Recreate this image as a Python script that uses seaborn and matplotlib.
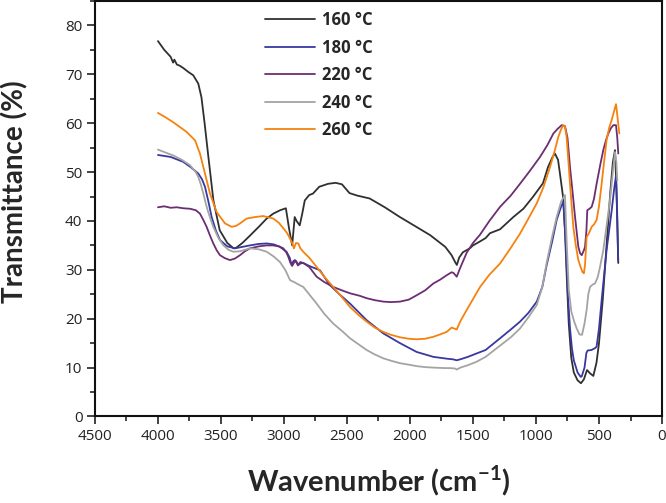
import numpy as np
import pandas as pd
import seaborn as sns
import matplotlib
matplotlib.use("Agg")
import matplotlib.pyplot as plt
from matplotlib.ticker import MultipleLocator

# ---------------- data ----------------
labels = ["160 °C", "180 °C", "220 °C", "240 °C", "260 °C"]
colors = ["#303030", "#3838a0", "#6c2e72", "#a4a4a4", "#f5820f"]

wn_160 = [4000, 3950, 3900, 3880, 3870, 3850, 3830, 3800, 3760, 3720, 3680, 3655, 3630, 3600, 3560,
          3510, 3450, 3400, 3380, 3330, 3270, 3200, 3137, 3085, 3030, 2985, 2960, 2935, 2915, 2900,
          2875, 2855, 2835, 2800, 2770, 2720, 2650, 2590, 2540, 2480, 2420, 2320, 2200, 2080, 1950,
          1840, 1720, 1670, 1640, 1628, 1610, 1580, 1525, 1500, 1445, 1400, 1365, 1285, 1180, 1100,
          1025, 945, 905, 870, 850, 825, 810, 785, 770, 755, 740, 720, 700, 670, 643, 620, 595, 570,
          545, 520, 500, 470, 440, 410, 390, 373, 362, 347]
t_160 = [76.8, 75.0, 73.6, 72.4, 73.0, 72.0, 71.8, 71.3, 70.5, 69.8, 68.1, 65.3, 60.0, 53.1, 44.2,
         38.1, 35.5, 34.4, 34.5, 35.5, 37.0, 38.8, 40.5, 41.5, 42.2, 42.6, 38.5, 35.0, 40.8, 40.0,
         39.1, 41.5, 44.2, 45.3, 45.6, 47.0, 47.6, 47.8, 47.5, 45.7, 45.2, 44.6, 42.8, 40.8, 38.8,
         37.1, 34.7, 33.0, 31.5, 31.0, 32.5, 33.6, 34.4, 35.0, 35.8, 36.5, 37.5, 38.3, 40.8, 42.5,
         44.9, 47.7, 51.0, 53.0, 53.8, 52.5, 49.7, 44.9, 38.0, 28.0, 19.0, 12.0, 9.0, 7.4, 6.8, 7.6,
         9.5, 8.8, 8.3, 11.0, 15.0, 24.0, 35.0, 46.0, 52.0, 54.5, 47.0, 31.4]

wn_180 = [4000, 3900, 3800, 3740, 3680, 3650, 3627, 3600, 3574, 3540, 3508, 3450, 3390, 3330, 3270,
          3200, 3137, 3080, 3032, 2980, 2955, 2939, 2925, 2913, 2900, 2886, 2870, 2847, 2800, 2714,
          2640, 2560, 2476, 2344, 2212, 2079, 1947, 1815, 1700, 1660, 1629, 1600, 1540, 1471, 1400,
          1285, 1200, 1127, 1060, 994, 950, 915, 870, 836, 800, 783, 765, 745, 730, 715, 700, 670,
          645, 637, 615, 600, 590, 560, 530, 519, 500, 479, 440, 400, 380, 365, 356, 348]
t_180 = [53.5, 53.1, 52.1, 51.0, 49.7, 48.5, 47.0, 44.0, 40.8, 38.0, 36.1, 34.8, 34.4, 34.7, 35.0,
         35.3, 35.4, 35.2, 34.7, 33.7, 32.5, 31.0, 31.8, 32.0, 31.6, 31.0, 31.3, 31.4, 30.8, 29.9,
         27.0, 25.0, 23.1, 19.7, 17.0, 15.0, 13.2, 12.2, 11.8, 11.7, 11.5, 11.7, 12.2, 12.9, 13.6,
         16.0, 17.8, 19.4, 21.2, 23.5, 26.5, 31.0, 36.0, 40.2, 43.0, 43.9, 36.0, 24.0, 18.0, 14.0,
         11.5, 9.0, 8.1, 8.2, 10.0, 13.0, 13.5, 13.6, 14.0, 14.3, 18.0, 23.8, 34.0, 42.0, 46.5,
         49.3, 42.0, 32.0]

wn_220 = [4000, 3950, 3900, 3850, 3800, 3746, 3700, 3667, 3640, 3614, 3587, 3561, 3534, 3508, 3470,
          3429, 3390, 3349, 3310, 3270, 3200, 3140, 3085, 3040, 3005, 2980, 2966, 2950, 2935, 2920,
          2905, 2890, 2870, 2847, 2800, 2741, 2680, 2609, 2540, 2476, 2400, 2344, 2280, 2212, 2150,
          2079, 2010, 1947, 1880, 1815, 1760, 1709, 1670, 1656, 1629, 1600, 1550, 1500, 1444, 1370,
          1285, 1200, 1127, 1050, 968, 910, 862, 830, 796, 770, 750, 730, 710, 690, 664, 650, 637,
          620, 611, 600, 593, 575, 558, 540, 519, 490, 466, 445, 426, 405, 386, 365, 355, 347]
t_220 = [42.8, 43.0, 42.7, 42.8, 42.6, 42.5, 42.2, 41.5, 40.2, 38.8, 37.0, 35.4, 34.0, 33.0, 32.4,
         32.0, 32.3, 33.0, 33.8, 34.4, 34.8, 35.0, 35.0, 34.8, 34.4, 33.5, 32.7, 31.5, 30.8, 31.5,
         31.8, 30.9, 31.6, 31.4, 30.6, 28.6, 27.5, 26.5, 25.8, 25.2, 24.7, 24.2, 23.8, 23.5, 23.4,
         23.5, 23.9, 24.8, 25.8, 27.2, 28.0, 28.9, 29.5, 29.4, 28.6, 30.5, 33.5, 35.5, 37.2, 40.0,
         42.9, 45.2, 47.6, 50.2, 53.1, 55.5, 57.9, 58.8, 59.6, 59.4, 57.0, 51.0, 46.0, 40.8, 34.7,
         33.4, 33.0, 34.0, 34.7, 38.0, 42.2, 42.5, 42.9, 44.5, 47.6, 51.5, 54.5, 56.5, 57.9, 59.0,
         59.6, 59.6, 57.0, 53.8]

wn_240 = [4000, 3940, 3879, 3810, 3746, 3700, 3680, 3660, 3640, 3620, 3601, 3580, 3561, 3520, 3480,
          3440, 3402, 3350, 3270, 3200, 3137, 3080, 3032, 2990, 2952, 2920, 2899, 2870, 2847, 2800,
          2741, 2680, 2609, 2540, 2476, 2410, 2344, 2280, 2212, 2150, 2079, 2010, 1947, 1880, 1815,
          1720, 1680, 1640, 1629, 1600, 1540, 1471, 1400, 1285, 1200, 1127, 1060, 994, 950, 915,
          870, 836, 800, 770, 757, 740, 720, 698, 677, 655, 635, 615, 598, 585, 571, 550, 532, 510,
          492, 466, 440, 413, 386, 373, 362, 355]
t_240 = [54.6, 54.0, 53.4, 52.5, 51.4, 50.0, 49.0, 47.5, 45.6, 43.5, 41.8, 40.2, 38.8, 36.5, 35.0,
         34.1, 33.7, 33.8, 34.4, 34.2, 33.7, 32.7, 31.6, 30.0, 27.9, 27.5, 27.2, 26.8, 26.5, 25.0,
         23.1, 21.0, 19.0, 17.5, 16.0, 14.8, 13.6, 12.7, 11.9, 11.4, 10.9, 10.6, 10.3, 10.1, 10.0,
         9.9, 9.9, 9.8, 9.6, 10.0, 10.5, 11.2, 12.2, 14.5, 16.2, 18.0, 20.3, 22.8, 26.5, 31.5,
         37.0, 40.8, 44.0, 45.3, 36.0, 26.0, 21.5, 19.5, 18.0, 16.8, 16.7, 19.0, 21.8, 25.0, 26.5,
         27.0, 27.2, 28.5, 30.6, 34.0, 39.0, 44.2, 51.0, 54.1, 52.0, 48.3]

wn_260 = [4000, 3940, 3879, 3820, 3772, 3706, 3667, 3627, 3587, 3534, 3468, 3415, 3380, 3349, 3296,
          3230, 3164, 3085, 3040, 3005, 2975, 2952, 2935, 2921, 2905, 2886, 2870, 2847, 2800, 2741,
          2680, 2609, 2540, 2476, 2410, 2344, 2280, 2212, 2150, 2079, 2010, 1947, 1880, 1815, 1760,
          1709, 1669, 1650, 1629, 1600, 1550, 1500, 1444, 1370, 1285, 1200, 1127, 1060, 994, 940,
          889, 850, 823, 800, 783, 770, 757, 730, 704, 684, 664, 645, 630, 620, 611, 598, 580, 558,
          540, 519, 500, 479, 460, 440, 420, 400, 380, 365, 352, 339]
t_260 = [62.1, 61.2, 60.2, 59.1, 58.2, 56.5, 53.8, 49.7, 45.6, 41.8, 39.5, 38.8, 39.0, 39.5, 40.5,
         40.8, 41.0, 40.5, 39.6, 38.5, 37.5, 36.4, 35.5, 34.4, 35.5, 35.4, 34.4, 33.7, 32.5, 30.6,
         28.6, 26.5, 24.4, 22.4, 20.8, 19.4, 18.2, 17.3, 16.7, 16.2, 15.9, 15.8, 15.9, 16.3, 16.8,
         17.3, 18.2, 18.0, 17.8, 19.5, 21.8, 24.0, 26.5, 29.0, 31.3, 34.5, 37.4, 40.5, 43.6, 47.0,
         51.0, 54.5, 57.2, 58.8, 59.6, 59.3, 57.2, 47.6, 38.8, 35.0, 32.0, 30.5, 29.5, 29.3, 31.0,
         36.7, 37.5, 38.8, 39.3, 40.2, 43.0, 47.6, 52.0, 56.5, 59.0, 60.6, 62.5, 63.9, 61.0, 57.9]

x_ticks = [4500, 4000, 3500, 3000, 2500, 2000, 1500, 1000, 500, 0]
y_ticks = [0, 10, 20, 30, 40, 50, 60, 70, 80]

# ---------------- build long-form table ----------------
series = [(wn_160, t_160), (wn_180, t_180), (wn_220, t_220), (wn_240, t_240), (wn_260, t_260)]
frames = []
for lab, (w, t) in zip(labels, series):
    frames.append(pd.DataFrame({"wn": w, "T": t, "sample": lab}))
df = pd.concat(frames, ignore_index=True)

# ---------------- plot ----------------
sns.set_style("ticks")
plt.rcParams["font.family"] = ["Open Sans", "DejaVu Sans"]
plt.rcParams["mathtext.fontset"] = "custom"
plt.rcParams["mathtext.rm"] = "Lato"
plt.rcParams["mathtext.bf"] = "Lato:bold"

fig = plt.figure(figsize=(6.66, 5.03), dpi=100)
ax = fig.add_axes([0.1426, 0.172, 0.8514, 0.826])

sns.lineplot(data=df, x="wn", y="T", hue="sample", palette=dict(zip(labels, colors)),
             hue_order=labels, estimator=None, sort=False, linewidth=1.3, ax=ax)

ax.set_xlim(4500, 0)
ax.set_ylim(0, 85)
ax.set_xticks(x_ticks)
ax.set_xticklabels([str(v) for v in x_ticks])
ax.set_yticks(y_ticks)
ax.set_yticklabels([str(v) for v in y_ticks])
ax.xaxis.set_minor_locator(MultipleLocator(250))
ax.yaxis.set_minor_locator(MultipleLocator(5))
ax.tick_params(axis="both", which="major", direction="out", length=6, width=1.2,
               labelsize=11, colors="#222222", pad=3)
ax.tick_params(axis="both", which="minor", direction="out", length=3.5, width=1.2)
ax.tick_params(top=False, right=False, which="both")
for s in ax.spines.values():
    s.set_linewidth(1.5)
    s.set_color("#111111")
    s.set_visible(True)

ax.set_xlabel("Wavenumber (cm$^{\\mathbf{-1}}$)", fontsize=21, fontweight="bold",
              family=["Lato", "DejaVu Sans"])
ax.xaxis.set_label_coords(0.5, -0.112)
ax.set_ylabel("Transmittance (%)", fontsize=20, fontweight="bold",
              family=["Lato", "DejaVu Sans"])
ax.yaxis.set_label_coords(-0.118, 0.54)

leg = ax.legend(loc="upper left", bbox_to_anchor=(0.274, 1.012), frameon=False,
                handlelength=3.0, handletextpad=0.4, labelspacing=0.57,
                prop={"weight": "bold", "size": 12})
for line in leg.get_lines():
    line.set_linewidth(1.3)

fig.savefig("out.png", dpi=100)
